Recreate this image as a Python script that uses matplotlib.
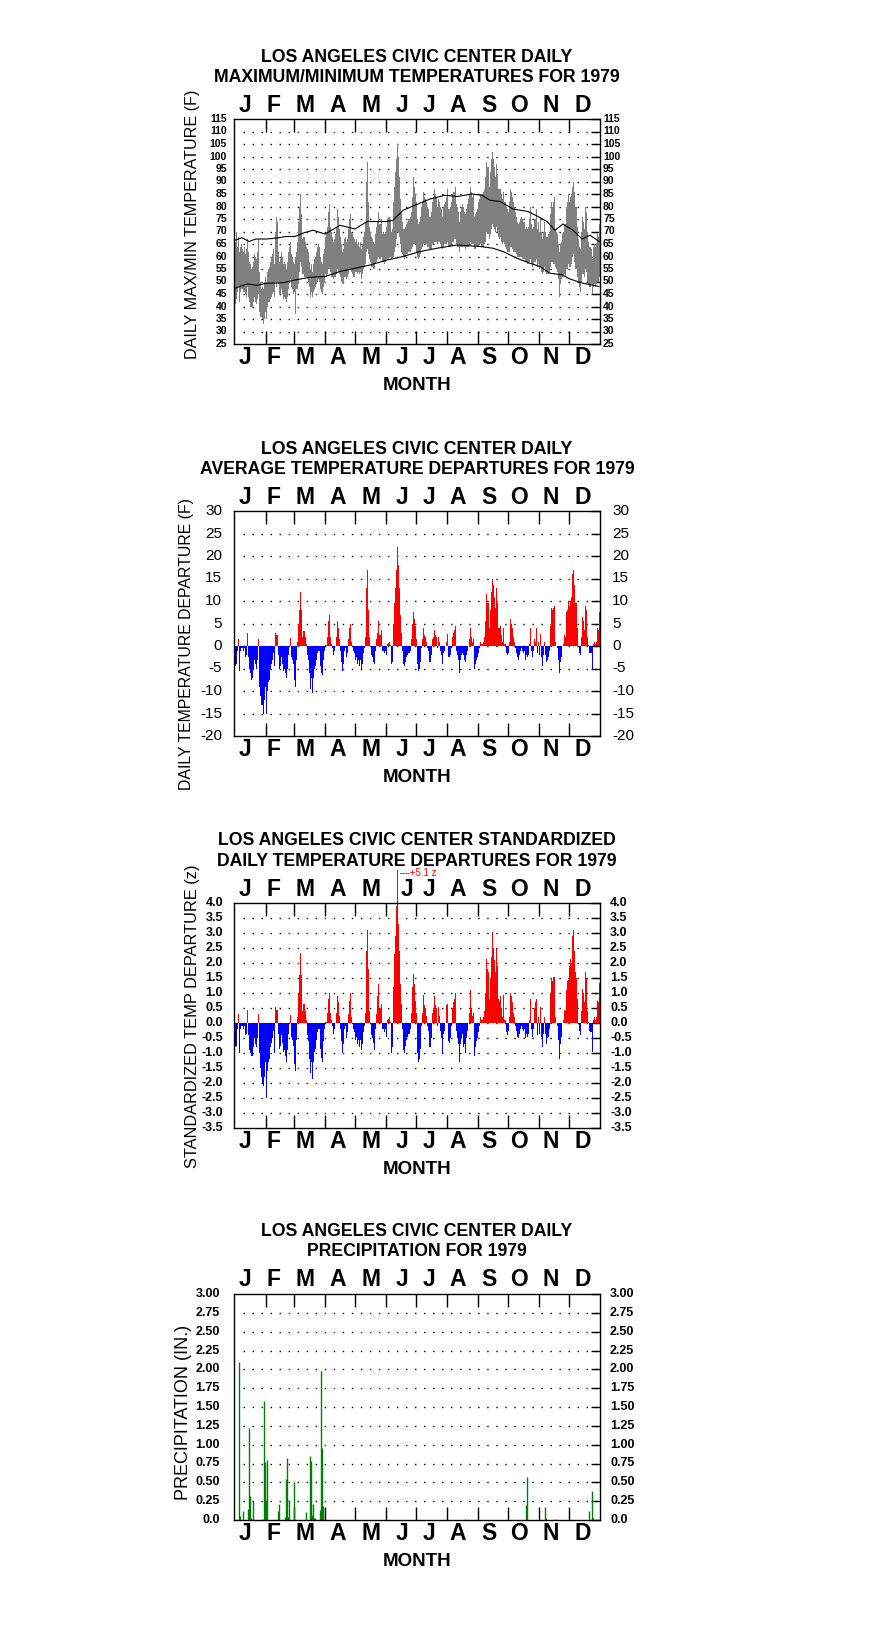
import numpy as np
import matplotlib
matplotlib.use('Agg')
import matplotlib.pyplot as plt
import matplotlib.transforms as mtransforms

W, H, DPI = 876, 1634, 100

months = ['J', 'F', 'M', 'A', 'M', 'J', 'J', 'A', 'S', 'O', 'N', 'D']
month_starts = [32, 60, 91, 121, 152, 182, 213, 244, 274, 305, 335]
month_label_x = [11, 40, 71, 104, 137, 168, 195, 224, 255, 285, 317, 349]

# daily max / min temperature (F), one list per month
jan_max = [66,70,64,68,62,64,65,63,62,64,61,63,67,62,58,57,55,56,58,61,60,59,62,67,54,50,47,48,47,50,52]
feb_max = [50,54,55,56,58,60,61,63,57,70,76,74,62,58,59,62,60,57,58,57,55,58,62,64,66,61,60,58]
mar_max = [57,60,62,66,74,80,85,77,67,68,68,66,64,63,62,58,55,57,54,57,59,60,62,64,65,64,60,58,57,61,63]
apr_max = [68,69,72,78,81,72,70,68,66,67,69,72,79,76,71,68,65,62,63,67,68,66,67,71,75,77,70,69,68,67]
may_max = [66,67,65,66,64,66,63,65,68,70,74,90,98,82,72,70,68,67,66,65,69,72,74,78,73,73,75,69,70,69,70]
jun_max = [72,75,76,76,75,70,71,82,88,94,99,105,100,92,83,78,74,71,71,72,73,74,75,75,76,78,84,92,88,85]
jul_max = [82,75,73,74,76,80,82,86,84,83,82,80,79,76,76,78,82,84,87,85,84,80,83,82,80,79,76,80,81,82,84]
aug_max = [87,79,79,80,82,85,86,86,88,81,80,78,74,78,80,81,80,78,77,79,81,83,85,88,86,84,85,76,77,78,79]
sep_max = [82,83,85,85,85,86,87,92,98,96,96,88,94,99,102,99,96,92,97,93,87,87,87,85,83,86,82,82,80,79]
oct_max = [78,82,87,86,84,82,80,78,76,74,73,74,75,76,75,74,74,71,72,71,72,75,80,73,71,72,75,75,79,71,74]
nov_max = [70,76,70,67,70,74,70,68,68,69,70,77,82,80,82,84,71,70,69,65,62,65,66,69,70,73,73,80,82,85]
dec_max = [82,84,85,88,90,86,80,80,72,67,64,63,70,76,74,71,80,78,70,66,64,64,63,59,64,65,64,65,69,68,73]

jan_min = [41,43,46,48,42,46,47,47,46,46,45,44,48,44,42,40,40,40,42,44,42,41,43,45,38,36,36,35,33,35,38]
feb_min = [35,40,42,42,43,44,45,46,44,50,48,50,49,45,45,47,45,43,44,43,42,44,47,50,51,48,47,45]
mar_min = [46,37,47,47,49,54,58,56,53,53,52,52,52,51,50,48,44,46,44,46,47,48,49,50,51,50,47,46,45,48,50]
apr_min = [53,52,53,55,55,54,52,52,51,52,52,53,55,54,53,52,50,49,49,52,52,51,52,53,55,55,54,53,52,52]
may_min = [54,54,53,54,53,54,51,53,55,56,57,62,63,61,59,58,56,56,55,55,57,58,59,60,59,59,60,58,58,57,58]
jun_min = [59,59,59,60,60,59,59,60,62,64,67,70,70,68,65,62,61,60,59,60,61,61,62,62,62,63,64,65,65,65]
jul_min = [62,60,59,60,61,63,64,65,65,65,65,64,64,63,63,63,65,65,66,66,66,65,66,66,65,64,63,64,65,65,65]
aug_min = [66,64,64,64,65,66,66,67,67,65,64,64,62,64,64,64,64,64,63,64,64,64,65,66,65,65,65,63,63,64,64]
sep_min = [64,65,65,64,64,64,65,66,70,69,69,67,69,71,73,72,71,70,72,70,68,67,68,66,65,66,65,64,63,62]
oct_min = [62,62,64,64,63,62,62,62,61,60,60,60,60,60,59,59,59,58,58,57,57,58,59,57,56,57,58,58,59,56,57]
nov_min = [55,56,54,53,54,56,54,53,53,53,54,56,58,58,57,57,56,55,54,51,44,49,51,52,52,53,52,55,55,57]
dec_min = [56,56,57,60,61,58,55,55,52,50,48,46,50,53,53,52,55,54,50,49,48,48,49,45,48,49,48,49,50,50,52]

# normal max / min curves (day of year, F)
nmax_doy = [1,8,15,22,33,45,52,61,70,79,91,106,121,133,153,159,169,181,196,211,223,238,248,256,266,279,294,304,313,321,329,339,348,356,365]
nmax = [66.5,67.5,66,67,67,67.5,68,68,69.5,70.5,69,72.5,71,74,74,74.5,78.5,80.5,83,84.5,84,85,84.5,82.5,82,79,78,76,74,70.5,73,70.5,67,68.5,66]
nmin_doy = [1,13,23,33,49,61,76,91,106,121,136,153,169,186,203,223,246,259,269,283,296,306,316,328,336,349,359,365]
nmin = [47.3,49,48.5,49.3,49.5,50.6,51.7,52,54,55.3,56.6,58.6,60,62,63.3,64.6,64,63.3,62,59.3,57.3,56,53.3,52.7,51,49.3,48.5,48]

# daily average temperature departures (F)
jan_dep = [-4.5,-4,-1,1.5,-5.5,-1,-0.5,-0.5,-1,-0.5,-2.5,-2,3,-2.5,-5,-6,-7.5,-7,-5,-3,-4,-5,-3,1.5,-9,-11,-13,-13,-15,-12,-9]
feb_dep = [-15,-10,-8,-7.5,-5,-4,-3,-1.5,-4.5,3,2.5,2.5,-2,-5,-4.5,-2.5,-4,-5.5,-5,-6,-7,-5,-2,0,1.7,-2.5,-3,-4]
mar_dep = [-7.5,-9,-3,1,5,8,12,8,2,3.3,3.3,2,0.5,-2,-3,-6,-9.5,-7,-10.5,-7,-5,-4.5,-3,-1.5,-1,-1,-4.5,-6,-6.5,-3,-1]
apr_dep = [0.3,0.3,2,5.5,7,2,0.5,-0.5,-2,-1,0,2,5.5,4,1.5,-1,-3.5,-5.5,-4,-1,-0.5,-2.5,-1.5,1.5,4,5,1,0,-1,-1.5]
may_dep = [-3,-2.5,-4,-3,-4.5,-3,-5,-4,-1.5,-0.5,2,13,17,8,2,0,-2,-2.5,-3.5,-4,-1,1.5,3,5.5,2.5,2.5,3.5,-1,-1,-1.5,-1]
jun_dep = [-2,0.5,0.7,1,0.3,-4,-3.5,5,9.5,13,17,22,18,13,7,3,-1,-4,-4.5,-3.5,-2.5,-2,-1.5,-1.5,-1,1.5,5,7.5,6,4.5]
jul_dep = [1.5,-4,-5.5,-5,-3.5,-0.5,1.5,4,2.5,2,1,-0.5,-1,-3.5,-3.5,-2,1.5,2,3.5,2.5,2,-0.5,2,1,-1,-2,-4,-1.5,-1,0,1]
aug_dep = [2.7,-2.5,-2.5,-2,-0.5,2,3,3.5,4.5,-1,-2,-3,-6,-3,-2,-1.5,-2,-3,-3.5,-2,-1,0,1.5,4,2,1,1.5,-5,-4,-3,-2.5]
sep_dep = [-1.5,-0.5,1,0.5,0.5,1,2,5.5,11.5,9.5,9.5,4,8,12,15,13.5,11,8.5,13,9.5,4,4,4.5,2.5,1,4,0.5,0.5,-1.5,-2]
oct_dep = [-1.5,1,6,5,4,2,1,-0.5,-1.5,-2.5,-3,-2,-1,-0.5,-1,-1.5,-1,-3,-2,-2.5,-2,0.5,4,-1,-2.5,-1,1.5,1,4,-1.5,1]
nov_dep = [-2,2.7,-2.5,-4.5,-2,1,-2,-3.5,-3,-2.5,-1,4.5,8.5,8,8.5,9,1,0,-0.5,-3,-6,-3.5,-2.5,0,0.5,2.5,2,7.5,8,10]
dec_dep = [9,10,11,16,17,13.5,9.5,9.5,4,0,-1.5,-2,2,6.5,5.5,3.5,9,8,2,0.3,-1.5,-1.5,-1.5,-5,0.5,1,0.5,1,4,3.5,7.5]

# standardized departures (z)
jan_z = [-0.8,-0.75,-0.2,0.3,-1.0,-0.2,-0.1,-0.1,-0.2,-0.1,-0.4,-0.35,0.45,-0.4,-0.9,-1.0,-1.1,-1.1,-0.8,-0.5,-0.7,-0.8,-0.5,0.3,-1.0,-1.5,-1.8,-2.0,-2.1,-1.8,-1.3]
feb_z = [-2.5,-1.6,-1.3,-1.2,-0.8,-0.65,-0.5,-0.25,-1.0,0.55,0.45,0.45,-0.35,-0.85,-0.75,-0.4,-0.65,-0.95,-0.9,-1.1,-1.3,-0.9,-0.35,0,0.28,-0.45,-0.55,-0.75]
mar_z = [-1.35,-1.6,-0.55,0.2,1.0,1.6,2.35,1.6,0.4,0.62,0.62,0.4,0.1,-0.4,-0.6,-1.2,-1.65,-1.3,-1.85,-1.3,-0.95,-0.85,-0.55,-0.3,-0.2,-0.2,-0.85,-1.15,-1.3,-0.6,-0.2]
apr_z = [0.05,0.05,0.35,0.8,1.0,0.35,0.1,-0.1,-0.35,-0.2,0,0.35,0.9,0.7,0.25,-0.2,-0.6,-1.0,-0.7,-0.2,-0.1,-0.5,-0.3,0.3,0.75,1.0,0.2,0,-0.2,-0.3]
may_z = [-0.55,-0.45,-0.7,-0.55,-0.8,-0.55,-0.9,-0.7,-0.3,-0.1,0.35,2.4,3.1,1.8,0.4,0,-0.4,-0.5,-0.65,-0.9,-0.2,0.3,0.9,1.3,0.5,0.5,0.65,-0.2,-0.2,-0.3,-0.2]
jun_z = [-0.45,0.1,0.15,0.2,0.05,-1.0,-0.8,1.2,2.3,2.9,3.9,5.1,3.3,2.4,1.3,0.65,-0.2,-0.9,-1.0,-0.75,-0.55,-0.45,-0.35,-0.35,-0.2,0.35,1.2,1.65,1.3,0.75]
jul_z = [0.35,-1.0,-1.3,-1.2,-0.85,-0.1,0.35,0.95,0.6,0.5,0.25,-0.1,-0.25,-0.8,-0.8,-0.5,0.35,0.5,0.9,0.6,0.5,-0.1,0.55,0.25,-0.25,-0.5,-1.0,-0.35,-0.25,0,0.6]
aug_z = [0.65,-0.6,-0.65,-0.5,-0.1,0.5,0.7,0.8,1.0,-0.25,-0.5,-0.7,-1.3,-0.7,-0.5,-0.35,-0.8,-0.7,-1.0,-0.5,-0.25,0,0.35,1.1,0.5,0.25,0.35,-1.1,-0.8,-0.6,-0.5]
sep_z = [-0.3,-0.1,0.2,0.1,0.1,0.2,0.4,1.0,2.15,1.8,1.7,0.8,1.5,2.2,3.05,2.5,2.1,1.7,2.5,1.9,0.8,0.75,0.9,0.5,0.2,0.95,0.1,0.1,-0.3,-0.4]
oct_z = [-0.25,0.2,1.0,0.9,0.7,0.35,0.2,-0.1,-0.25,-0.45,-0.5,-0.35,-0.2,-0.1,-0.2,-0.25,-0.2,-0.5,-0.35,-0.45,-0.35,0.1,0.8,-0.2,-0.45,-0.2,0.5,0.7,0.8,-0.4,0.2]
nov_z = [-0.35,0.55,-0.45,-0.8,-0.35,0.2,-0.35,-0.7,-0.5,-0.45,-0.2,1.0,1.5,1.4,1.55,1.55,0.2,0,-0.1,-0.55,-1.2,-0.7,-0.45,0,0.1,0.45,0.4,1.1,1.4,1.45]
dec_z = [1.9,2.15,2.0,2.9,3.1,2.4,1.7,1.5,0.8,0,-0.25,-0.4,0.4,1.15,1.0,0.7,1.7,1.5,0.4,0.05,-0.25,-0.3,-0.3,-0.95,0.1,0.2,0.1,0.2,0.75,0.7,1.35]

# precipitation (day of year, inches)
precip_doy = [5,6,9,14,15,16,17,19,28,30,31,32,33,44,45,51,52,53,54,55,60,72,76,77,78,79,80,81,86,87,88,89,231,292,293,311,312,321,355,358,359]
precip_in = [2.10,0.05,0.12,0.14,1.22,0.32,0.02,0.25,0.01,1.58,0.77,0.26,0.79,0.12,0.21,0.04,0.54,0.82,0.04,0.26,0.50,0.10,0.85,0.78,0.07,0.21,0.03,0.02,0.13,1.98,0.96,0.18,0.01,0.20,0.57,0.17,0.03,0.01,0.12,0.39,0.02]

tmax = np.array(jan_max+feb_max+mar_max+apr_max+may_max+jun_max+jul_max+aug_max+sep_max+oct_max+nov_max+dec_max)
tmin = np.array(jan_min+feb_min+mar_min+apr_min+may_min+jun_min+jul_min+aug_min+sep_min+oct_min+nov_min+dec_min)
dep = np.array(jan_dep+feb_dep+mar_dep+apr_dep+may_dep+jun_dep+jul_dep+aug_dep+sep_dep+oct_dep+nov_dep+dec_dep)
zdep = np.array(jan_z+feb_z+mar_z+apr_z+may_z+jun_z+jul_z+aug_z+sep_z+oct_z+nov_z+dec_z)
assert len(tmax) == len(tmin) == len(dep) == len(zdep) == 365, (len(tmax), len(tmin), len(dep), len(zdep))
doy = np.arange(1, 366)

FONT = 'Liberation Sans'
NARROW = ['Liberation Sans Narrow', 'Liberation Sans']

fig = plt.figure(figsize=(W / DPI, H / DPI), dpi=DPI)


def px_off(dx, dy, base):
    return base + mtransforms.ScaledTranslation(dx / DPI, -dy / DPI, fig.dpi_scale_trans)


def panel(top, bottom, ylo, yhi, levels, labels, tick_font, lpad, rpad,
          title, ylabel, ylab_x, ylab_y, ylab_size, top_x=month_label_x):
    ax = fig.add_axes([234 / W, 1 - bottom / H, 366 / W, (bottom - top) / H])
    ax.set_xlim(0, 366)
    ax.set_ylim(ylo, yhi)
    ax.set_xticks(month_starts)
    ax.tick_params(axis='x', direction='in', length=9.4, width=1, top=True,
                   bottom=True, labelbottom=False)
    ax.set_yticks(levels)
    ax.tick_params(axis='y', left=False, right=True, labelleft=False,
                   labelright=False, direction='in', length=6.5, width=1)
    for s in ax.spines.values():
        s.set_linewidth(1)
    ax.hlines(levels[1:-1], 9, 366, colors='k', linestyles=(0, (1, 5.5)),
              linewidth=1, zorder=1)
    blend = mtransforms.blended_transform_factory(ax.transAxes, ax.transData)
    for v, lab in zip(levels, labels):
        ax.text(0, v, lab, transform=px_off(-lpad, 0, blend), ha='right',
                va='center', clip_on=False, **tick_font)
        ax.text(1, v, lab, transform=px_off(rpad, 0, blend), ha='left',
                va='center', clip_on=False, **tick_font)
    xb = mtransforms.blended_transform_factory(ax.transData, ax.transAxes)
    for x, m in zip(top_x, months):
        ax.text(x, 1, m, transform=px_off(0, -14, xb), ha='center',
                va='center', family=FONT, fontsize=16.5, fontweight='bold')
    for x, m in zip(month_label_x, months):
        ax.text(x, 0, m, transform=px_off(0, 14, xb), ha='center',
                va='center', family=FONT, fontsize=16.5, fontweight='bold')
    fig.text(417 / W, 1 - (bottom + 41) / H, 'MONTH', ha='center', va='center',
             family=FONT, fontsize=13.5, fontweight='bold')
    fig.text(417 / W, 1 - (top - 62) / H, title[0], ha='center', va='center',
             family=FONT, fontsize=12.7, fontweight='bold')
    fig.text(417 / W, 1 - (top - 42) / H, title[1], ha='center', va='center',
             family=FONT, fontsize=12.7, fontweight='bold')
    fig.text(ylab_x / W, 1 - ylab_y / H, ylabel, rotation=90, ha='center',
             va='center', family=FONT, fontsize=ylab_size)
    return ax


# panel 1: max/min temperatures
lv1 = list(range(25, 120, 5))
ax1 = panel(119, 344, 25, 115, lv1, [str(v) for v in lv1],
            dict(family=NARROW, fontsize=7.5, fontweight='bold'), 7, 3,
            ['LOS ANGELES CIVIC CENTER DAILY', 'MAXIMUM/MINIMUM TEMPERATURES FOR 1979'],
            'DAILY MAX/MIN TEMPERATURE (F)', 192, 224, 11.6)
ax1.bar(doy, tmax - tmin, bottom=tmin, width=1.0, color='#808080',
        linewidth=0, zorder=2)
ax1.plot(nmax_doy, nmax, color='k', lw=0.8, zorder=3)
ax1.plot(nmin_doy, nmin, color='k', lw=0.8, zorder=3)

# panel 2: departures
lv2 = list(range(-20, 35, 5))
ax2 = panel(511, 736, -20, 30, lv2, [str(v) for v in lv2],
            dict(family=FONT, fontsize=11), 12, 12,
            ['LOS ANGELES CIVIC CENTER DAILY', 'AVERAGE TEMPERATURE DEPARTURES FOR 1979'],
            'DAILY TEMPERATURE DEPARTURE (F)', 187, 644, 11.4)
ax2.bar(doy, dep, width=1.0, color=np.where(dep >= 0, '#FF0000', '#0000FF'),
        linewidth=0, zorder=2)

# panel 3: standardized departures
lv3 = [v / 2 for v in range(-7, 9)]
top3 = list(month_label_x)
top3[5] = 173
ax3 = panel(903, 1128, -3.5, 4.0, lv3, ['%.1f' % v for v in lv3],
            dict(family=FONT, fontsize=9, fontweight='bold'), 11, 10,
            ['LOS ANGELES CIVIC CENTER STANDARDIZED', 'DAILY TEMPERATURE DEPARTURES FOR 1979'],
            'STANDARDIZED TEMP DEPARTURE (z)', 192, 1016, 11.8, top_x=top3)
ax3.bar(doy, zdep, width=1.0, color=np.where(zdep >= 0, '#FF0000', '#0000FF'),
        linewidth=0, zorder=2, clip_on=False)
ax3.text(166, 5.0, '\u2014+5.1 z', color='#FF0000', fontsize=7, family=FONT,
         va='center', ha='left', clip_on=False)

# panel 4: precipitation
lv4 = [v / 4 for v in range(0, 13)]
ax4 = panel(1294, 1520, 0, 3.0, lv4, ['0.0'] + ['%.2f' % v for v in lv4[1:]],
            dict(family=FONT, fontsize=9, fontweight='bold'), 14, 10,
            ['LOS ANGELES CIVIC CENTER DAILY', 'PRECIPITATION FOR 1979'],
            'PRECIPITATION (IN.)', 183, 1412, 13)
ax4.vlines(precip_doy, 0, precip_in, colors='#008000', linewidth=1.0, zorder=2)

fig.savefig('out.png', dpi=DPI)
